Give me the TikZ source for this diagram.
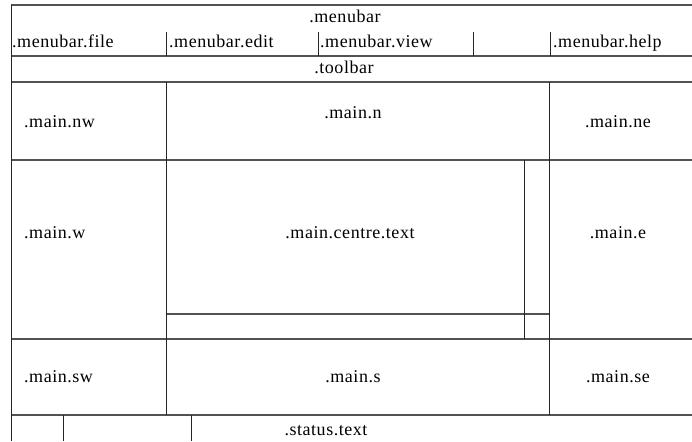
\documentclass[tikz,border=0pt]{standalone}
\usepackage{fontspec}
\setmainfont{Liberation Serif}[LetterSpace=3]
\begin{document}
\begin{tikzpicture}[x=1pt,y=-1pt,
  hline/.style={draw=black!68,line width=1.4pt},
  vline/.style={draw=black!85,line width=1pt},
  lbl/.style={inner sep=0pt,font=\fontsize{18}{18}\selectfont,anchor=base},
  lblw/.style={lbl,anchor=base west}]
\useasboundingbox (0,0) rectangle (692,441);
\fill[white] (0,0) rectangle (692,441);
% horizontal rules
\draw[hline] (11,5) -- (692,5);
\draw[hline] (11,56) -- (692,56);
\draw[hline] (11,82) -- (692,82);
\draw[hline] (11,160) -- (692,160);
\draw[hline] (166,314) -- (549,314);
\draw[hline] (11,339) -- (692,339);
\draw[hline] (11,415) -- (692,415);
% vertical rules
\draw[vline] (11,5) -- (11,441);
\draw[vline] (166,32) -- (166,56);
\draw[vline] (318,32) -- (318,56);
\draw[vline] (473,32) -- (473,56);
\draw[vline] (550,32) -- (550,56);
\draw[vline] (166,82) -- (166,415);
\draw[vline] (549,82) -- (549,415);
\draw[vline] (524,160) -- (524,339);
\draw[vline] (63,415) -- (63,441);
\draw[vline] (191,415) -- (191,441);
% labels
\node[lbl] (menubar) at (345,23) {.menubar};
\node[lblw] (mfile) at (12,48) {.menubar.file};
\node[lblw] (medit) at (169,48) {.menubar.edit};
\node[lblw] (mview) at (320,48) {.menubar.view};
\node[lblw] (mhelp) at (553,48) {.menubar.help};
\node[lbl] (toolbar) at (344,74) {.toolbar};
\node[lblw] (nw) at (24,127) {.main.nw};
\node[lbl] (n) at (353,118) {.main.n};
\node[lbl] (ne) at (618,127) {.main.ne};
\node[lblw] (w) at (24,238) {.main.w};
\node[lbl] (centre) at (350,238) {.main.centre.text};
\node[lbl] (e) at (618,238) {.main.e};
\node[lblw] (sw) at (24,382) {.main.sw};
\node[lbl] (s) at (353,382) {.main.s};
\node[lbl] (se) at (618,382) {.main.se};
\node[lbl] (status) at (326,435) {.status.text};
\end{tikzpicture}
\end{document}
